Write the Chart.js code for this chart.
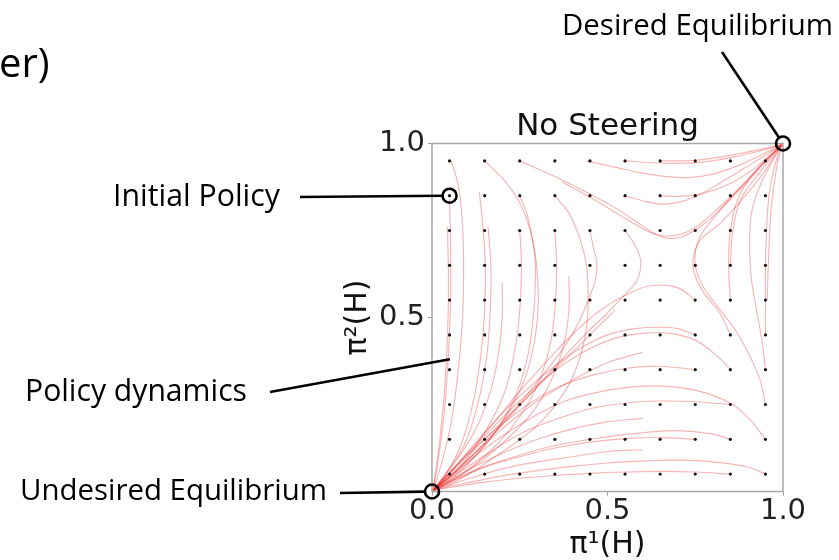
<!DOCTYPE html>
<html>
<head>
<meta charset="utf-8">
<script src="https://cdn.jsdelivr.net/npm/chart.js@4.4.1/dist/chart.umd.min.js"></script>
<style>
  html, body { margin: 0; padding: 0; background: #ffffff; }
  #wrap { width: 839px; height: 560px; position: relative; }
</style>
</head>
<body>
<div id="wrap"><canvas id="c" width="839" height="560"></canvas></div>
<script>
// ---- axis ticks ----
const xTickValues = [0, 0.5, 1];
const xTickLabels = ['0.0', '0.5', '1.0'];
const yTickValues = [0.5, 1];
const yTickLabels = ['0.5', '1.0'];

// ---- sample grid where the field was evaluated ----
const gridX = [0.05, 0.15, 0.25, 0.35, 0.45, 0.55, 0.65, 0.75, 0.85, 0.95];
const gridY = [0.05, 0.15, 0.25, 0.35, 0.45, 0.55, 0.65, 0.75, 0.85, 0.95];

// ---- trajectories falling into (0,0), starting in the upper-left region ----
const flowFromTopLeft = [
  [[0.055,0.95],[0.075,0.88],[0.086,0.78],[0.09,0.65],[0.087,0.5],[0.075,0.35],[0.055,0.2],[0.03,0.09],[0.004,0.004]],
  [[0.05,0.84],[0.053,0.7],[0.053,0.55],[0.047,0.4],[0.037,0.25],[0.022,0.12],[0.004,0.004]],
  [[0.044,0.76],[0.047,0.6],[0.044,0.44],[0.035,0.28],[0.02,0.13],[0.003,0.004]],
  [[0.135,0.86],[0.146,0.75],[0.152,0.65],[0.15,0.52],[0.14,0.4],[0.12,0.27],[0.085,0.14],[0.04,0.05],[0.004,0.004]],
  [[0.16,0.76],[0.168,0.64],[0.165,0.5],[0.155,0.38],[0.13,0.25],[0.09,0.13],[0.004,0.004]],
  [[0.15,0.95],[0.21,0.89],[0.25,0.83],[0.28,0.75],[0.297,0.66],[0.303,0.55],[0.295,0.45],[0.27,0.34],[0.22,0.23],[0.14,0.12],[0.06,0.04],[0.004,0.004]],
  [[0.25,0.85],[0.27,0.8],[0.287,0.72],[0.295,0.65],[0.29,0.52],[0.275,0.4],[0.24,0.28],[0.18,0.17],[0.1,0.08],[0.004,0.004]],
  [[0.25,0.75],[0.255,0.65],[0.25,0.52],[0.235,0.4],[0.205,0.28],[0.15,0.17],[0.08,0.07],[0.004,0.004]],
  [[0.2,0.6],[0.2,0.5],[0.19,0.4],[0.17,0.3],[0.13,0.19],[0.07,0.09],[0.004,0.004]],
  [[0.35,0.85],[0.39,0.8],[0.42,0.73],[0.44,0.65],[0.445,0.55],[0.44,0.47],[0.42,0.38],[0.38,0.29],[0.3,0.19],[0.18,0.1],[0.07,0.03],[0.004,0.004]],
  [[0.35,0.75],[0.355,0.66],[0.352,0.55],[0.34,0.44],[0.31,0.33],[0.26,0.23],[0.17,0.12],[0.07,0.04],[0.004,0.004]],
  [[0.39,0.62],[0.39,0.52],[0.375,0.42],[0.34,0.32],[0.28,0.22],[0.18,0.12],[0.08,0.045],[0.004,0.004]],
  [[0.45,0.75],[0.46,0.7],[0.47,0.655],[0.465,0.605],[0.445,0.55],[0.42,0.49],[0.38,0.42],[0.32,0.34],[0.24,0.24],[0.15,0.14],[0.06,0.05],[0.004,0.004]],
  [[0.55,0.75],[0.583,0.7],[0.595,0.655],[0.583,0.605],[0.544,0.56],[0.487,0.5],[0.44,0.455],[0.37,0.38],[0.28,0.28],[0.18,0.17],[0.08,0.07],[0.004,0.004]],
  [[0.52,0.52],[0.47,0.47],[0.4,0.4],[0.3,0.3],[0.2,0.2],[0.1,0.1],[0.004,0.004]]
];

// ---- trajectories falling into (0,0), starting in the lower-right region ----
const flowFromBottomRight = [
  [[0.95,0.05],[0.898,0.071],[0.8,0.085],[0.706,0.09],[0.611,0.088],[0.5,0.082],[0.4,0.072],[0.3,0.06],[0.2,0.045],[0.1,0.025],[0.004,0.004]],
  [[0.85,0.05],[0.75,0.056],[0.65,0.058],[0.55,0.056],[0.45,0.052],[0.35,0.046],[0.25,0.038],[0.15,0.027],[0.06,0.013],[0.004,0.004]],
  [[0.6,0.12],[0.5,0.115],[0.4,0.1],[0.3,0.085],[0.2,0.065],[0.1,0.035],[0.004,0.004]],
  [[0.95,0.15],[0.907,0.205],[0.85,0.254],[0.755,0.29],[0.66,0.303],[0.566,0.3],[0.47,0.285],[0.38,0.26],[0.28,0.21],[0.18,0.145],[0.09,0.075],[0.004,0.004]],
  [[0.85,0.15],[0.8,0.165],[0.7,0.175],[0.61,0.17],[0.52,0.16],[0.42,0.145],[0.32,0.125],[0.22,0.095],[0.12,0.06],[0.004,0.004]],
  [[0.75,0.15],[0.65,0.155],[0.55,0.152],[0.45,0.142],[0.35,0.125],[0.25,0.1],[0.15,0.07],[0.06,0.03],[0.004,0.004]],
  [[0.6,0.21],[0.5,0.2],[0.4,0.18],[0.3,0.15],[0.2,0.11],[0.1,0.06],[0.004,0.004]],
  [[0.85,0.25],[0.75,0.258],[0.65,0.26],[0.56,0.255],[0.46,0.24],[0.36,0.21],[0.26,0.17],[0.16,0.11],[0.07,0.05],[0.004,0.004]],
  [[0.75,0.35],[0.65,0.36],[0.56,0.355],[0.46,0.335],[0.36,0.3],[0.26,0.24],[0.16,0.16],[0.07,0.075],[0.004,0.004]],
  [[0.6,0.4],[0.5,0.37],[0.4,0.32],[0.3,0.26],[0.2,0.18],[0.1,0.09],[0.004,0.004]],
  [[0.85,0.35],[0.815,0.387],[0.75,0.435],[0.673,0.455],[0.606,0.455],[0.52,0.44],[0.43,0.4],[0.34,0.34],[0.25,0.26],[0.16,0.17],[0.07,0.075],[0.004,0.004]],
  [[0.75,0.45],[0.7,0.468],[0.65,0.472],[0.58,0.468],[0.5,0.45],[0.42,0.41],[0.33,0.345],[0.24,0.265],[0.15,0.17],[0.06,0.065],[0.004,0.004]],
  [[0.75,0.55],[0.706,0.583],[0.66,0.593],[0.611,0.589],[0.564,0.57],[0.5,0.535],[0.43,0.48],[0.35,0.4],[0.26,0.3],[0.17,0.19],[0.08,0.085],[0.004,0.004]]
];

// ---- trajectories reaching (1,1) ----
const flowToTopRight = [
  [[0.25,0.95],[0.35,0.905],[0.45,0.855],[0.53,0.81],[0.59,0.77],[0.635,0.74],[0.67,0.728],[0.705,0.73],[0.745,0.748],[0.8,0.79],[0.87,0.86],[0.94,0.935],[0.996,0.996]],
  [[0.37,0.89],[0.46,0.84],[0.555,0.782],[0.62,0.745],[0.66,0.735],[0.697,0.737],[0.745,0.755],[0.8,0.8],[0.87,0.865],[0.94,0.94],[0.996,0.996]],
  [[0.55,0.85],[0.61,0.833],[0.65,0.826],[0.697,0.83],[0.75,0.847],[0.82,0.886],[0.9,0.935],[0.996,0.996]],
  [[0.65,0.85],[0.7,0.848],[0.77,0.856],[0.85,0.885],[0.92,0.93],[0.996,0.996]],
  [[0.44,0.95],[0.53,0.93],[0.6,0.915],[0.67,0.905],[0.73,0.902],[0.8,0.912],[0.88,0.94],[0.996,0.996]],
  [[0.55,0.95],[0.645,0.944],[0.75,0.945],[0.845,0.958],[0.92,0.975],[0.996,0.996]],
  [[0.65,0.95],[0.75,0.952],[0.85,0.966],[0.996,0.996]],
  [[0.95,0.45],[0.95,0.55],[0.95,0.65],[0.953,0.75],[0.96,0.85],[0.975,0.93],[0.996,0.996]],
  [[0.95,0.35],[0.94,0.435],[0.925,0.52],[0.91,0.61],[0.905,0.7],[0.91,0.8],[0.935,0.88],[0.97,0.95],[0.996,0.996]],
  [[0.95,0.25],[0.935,0.32],[0.9,0.4],[0.86,0.47],[0.815,0.53],[0.775,0.585],[0.752,0.64],[0.75,0.685],[0.765,0.735],[0.81,0.795],[0.87,0.865],[0.94,0.94],[0.996,0.996]],
  [[0.85,0.45],[0.82,0.513],[0.775,0.57],[0.748,0.625],[0.745,0.675],[0.765,0.723],[0.82,0.77],[0.88,0.835],[0.94,0.91],[0.996,0.996]],
  [[0.85,0.55],[0.845,0.65],[0.85,0.75],[0.875,0.85],[0.93,0.93],[0.996,0.996]],
  [[0.85,0.65],[0.857,0.75],[0.88,0.84],[0.94,0.925],[0.996,0.996]],
  [[0.955,0.55],[0.96,0.7],[0.967,0.82],[0.98,0.92],[0.996,0.996]]
];

// ---- highlighted states ----
const markedStates = [
  { name: 'Desired Equilibrium',   x: 1,    y: 1    },
  { name: 'Initial Policy',        x: 0.05, y: 0.85 },
  { name: 'Undesired Equilibrium', x: 0,    y: 0    }
];
const dynamicsPointer = { name: 'Policy dynamics', x: 0.051, y: 0.38 };

// ---- callout text placement (canvas pixels) ----
const callouts = [
  { text: 'Desired Equilibrium',   left: 562, midY: 27,  width: 271, from: [722, 52],  target: 'Desired Equilibrium', ring: true },
  { text: 'Initial Policy',        left: 113, midY: 197, width: 167, from: [300, 197], target: 'Initial Policy', ring: true },
  { text: 'Policy dynamics',       left: 25,  midY: 392, width: 222, from: [270, 392], target: null, ring: false },
  { text: 'Undesired Equilibrium', left: 20,  midY: 492, width: 307, from: [340, 493], target: 'Undesired Equilibrium', ring: true }
];
const CALLOUT_FONT = '"Open Sans", "Noto Sans", sans-serif';
const RING_RADIUS = 7;

const toPoints = line => line.map(([x, y]) => ({ x, y }));
const streamStyle = {
  showLine: true, pointRadius: 0, pointHoverRadius: 0, borderWidth: 1.15,
  borderColor: 'rgba(232, 50, 50, 0.36)', tension: 0.35, order: 3
};

const datasets = [];
[...flowFromTopLeft, ...flowFromBottomRight, ...flowToTopRight].forEach(line => {
  datasets.push(Object.assign({ data: toPoints(line) }, streamStyle));
});

const gridPoints = [];
gridX.forEach(x => gridY.forEach(y => gridPoints.push({ x, y })));
datasets.push({
  data: gridPoints, showLine: false, pointRadius: 1.6, pointBorderWidth: 0,
  pointBackgroundColor: '#151515', order: 1
});
datasets.push({
  data: markedStates.map(s => ({ x: s.x, y: s.y })), showLine: false,
  pointRadius: RING_RADIUS, pointBorderWidth: 2.6, pointBorderColor: '#000',
  pointBackgroundColor: 'rgba(0,0,0,0)', clip: false, order: 0
});

// frame around the plotting area
const framePlugin = {
  id: 'frame',
  beforeDatasetsDraw(chart) {
    const { ctx, chartArea: a } = chart;
    ctx.save();
    ctx.strokeStyle = '#a8a8a8';
    ctx.lineWidth = 1.5;
    ctx.strokeRect(a.left, a.top, a.right - a.left, a.bottom - a.top);
    ctx.restore();
  }
};

// callout labels with leader lines, plus the cut-off heading fragment
const calloutPlugin = {
  id: 'callouts',
  afterDraw(chart) {
    const { ctx, scales: { x: sx, y: sy } } = chart;
    ctx.save();
    ctx.fillStyle = '#000';
    ctx.textBaseline = 'middle';
    ctx.textAlign = 'left';
    ctx.font = '40px ' + CALLOUT_FONT;
    ctx.fillText('er)', -1, 66);

    callouts.forEach(c => {
      ctx.font = '30px ' + CALLOUT_FONT;
      const w = ctx.measureText(c.text).width;
      const size = 30 * c.width / w;
      ctx.font = size.toFixed(2) + 'px ' + CALLOUT_FONT;
      ctx.fillStyle = '#000';
      ctx.fillText(c.text, c.left, c.midY);

      const ref = c.target ? markedStates.find(s => s.name === c.target) : dynamicsPointer;
      const tx = sx.getPixelForValue(ref.x);
      const ty = sy.getPixelForValue(ref.y);
      let ex = tx, ey = ty;
      if (c.ring) {
        const dx = tx - c.from[0], dy = ty - c.from[1];
        const d = Math.hypot(dx, dy);
        ex = tx - dx / d * RING_RADIUS;
        ey = ty - dy / d * RING_RADIUS;
      }
      ctx.strokeStyle = '#000';
      ctx.lineWidth = 2.6;
      ctx.beginPath();
      ctx.moveTo(c.from[0], c.from[1]);
      ctx.lineTo(ex, ey);
      ctx.stroke();
    });
    ctx.restore();
  }
};

const tickFont = { family: '"DejaVu Sans", sans-serif', size: 29 };
const axisTitleFont = { family: '"DejaVu Sans", sans-serif', size: 30, lineHeight: 1.0 };

new Chart(document.getElementById('c'), {
  type: 'scatter',
  data: { datasets },
  plugins: [framePlugin, calloutPlugin],
  options: {
    responsive: false,
    animation: false,
    events: [],
    layout: { padding: { left: 340, right: 56, top: 111.5, bottom: 0 } },
    plugins: {
      legend: { display: false },
      tooltip: { enabled: false },
      title: {
        display: true, text: 'No Steering', fullSize: false,
        font: { family: '"DejaVu Sans", sans-serif', size: 31, weight: 'normal', lineHeight: 1.0 },
        color: '#111', padding: { top: 0, bottom: 1 }
      }
    },
    scales: {
      x: {
        type: 'linear', min: 0, max: 1,
        afterFit: s => { s.height = 68.5; },
        afterBuildTicks: s => { s.ticks = xTickValues.map(v => ({ value: v })); },
        ticks: {
          font: tickFont, color: '#222', padding: -1, maxRotation: 0,
          callback: v => xTickLabels[xTickValues.indexOf(v)] ?? ''
        },
        grid: { drawOnChartArea: false, drawTicks: true, tickLength: 4, color: '#999' },
        border: { display: false },
        title: { display: true, text: 'π¹(H)', font: axisTitleFont, color: '#111', padding: { top: 0, bottom: 0 } }
      },
      y: {
        type: 'linear', min: 0, max: 1,
        afterFit: s => { s.width = 92; },
        afterBuildTicks: s => { s.ticks = yTickValues.map(v => ({ value: v })); },
        ticks: {
          font: tickFont, color: '#222', padding: 3,
          callback: v => yTickLabels[yTickValues.indexOf(v)] ?? ''
        },
        grid: { drawOnChartArea: false, drawTicks: true, tickLength: 4, color: '#999' },
        border: { display: false },
        title: { display: true, text: 'π²(H)', font: axisTitleFont, color: '#111', padding: { top: 3, bottom: 0 } }
      }
    }
  }
});
</script>
</body>
</html>
